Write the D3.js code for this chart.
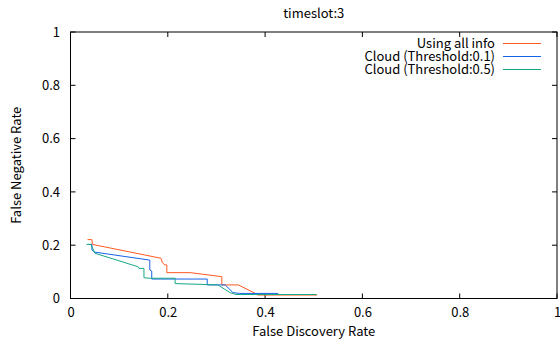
<!DOCTYPE html>
<html>
<head>
<meta charset="utf-8">
<script src="https://cdn.jsdelivr.net/npm/d3@7"></script>
<style>
  body { margin: 0; background: #fff; }
  svg text { font-family: "Noto Sans CJK JP", "Noto Sans", sans-serif; fill: #000; }
</style>
</head>
<body>
<div class="chart"></div>
<script>
// series: [false discovery rate, false negative rate]
var allInfo = [
  [0.035, 0.221], [0.044, 0.221], [0.045, 0.203], [0.186, 0.151], [0.189, 0.134],
  [0.194, 0.126], [0.198, 0.126], [0.198, 0.097], [0.246, 0.097], [0.311, 0.082],
  [0.311, 0.051], [0.345, 0.051], [0.379, 0.020], [0.385, 0.013], [0.507, 0.013]
];
var cloud01 = [
  [0.037, 0.203], [0.044, 0.203], [0.044, 0.182], [0.050, 0.174], [0.163, 0.144],
  [0.163, 0.107], [0.167, 0.103], [0.167, 0.073], [0.281, 0.073], [0.281, 0.051],
  [0.318, 0.051], [0.334, 0.022], [0.348, 0.019], [0.427, 0.019]
];
var cloud05 = [
  [0.033, 0.203], [0.042, 0.203], [0.050, 0.170], [0.139, 0.119], [0.141, 0.113],
  [0.151, 0.113], [0.151, 0.078], [0.163, 0.076], [0.215, 0.076], [0.215, 0.056],
  [0.303, 0.051], [0.328, 0.022], [0.340, 0.015], [0.506, 0.015]
];
var seriesNames = ["Using all info", "Cloud (Threshold:0.1)", "Cloud (Threshold:0.5)"];
var seriesColors = ["#ff5a1f", "#1563e6", "#17a884"];
var tickValues = [0, 0.2, 0.4, 0.6, 0.8, 1];

var margin = { top: 32, right: 3, bottom: 46.5, left: 70.5 };
var width = 560 - margin.left - margin.right;
var height = 345 - margin.top - margin.bottom;

var svg = d3.select(".chart")
  .append("svg")
  .attr("width", 560)
  .attr("height", 345)
  .append("g")
  .attr("transform", `translate(${margin.left}, ${margin.top})`);

var xScale = d3.scaleLinear().domain([0, 1]).range([0, width]);
var yScale = d3.scaleLinear().domain([0, 1]).range([height, 0]);

// tick labels
svg.append("g")
  .attr("transform", `translate(0,${height})`)
  .call(d3.axisBottom(xScale).tickValues(tickValues).tickFormat(d3.format("~g")).tickSize(0).tickPadding(9))
  .call(g => g.select(".domain").remove())
  .selectAll("text").style("font-size", "13px");

svg.append("g")
  .call(d3.axisLeft(yScale).tickValues(tickValues).tickFormat(d3.format("~g")).tickSize(0).tickPadding(10.5))
  .call(g => g.select(".domain").remove())
  .selectAll("text").style("font-size", "13px");

// inward ticks on all four sides
var tl = 5;
tickValues.forEach(function(t) {
  svg.append("line").attr("x1", xScale(t)).attr("x2", xScale(t))
    .attr("y1", height).attr("y2", height - tl).attr("stroke", "#000");
  svg.append("line").attr("x1", xScale(t)).attr("x2", xScale(t))
    .attr("y1", 0).attr("y2", tl).attr("stroke", "#000");
  svg.append("line").attr("y1", yScale(t)).attr("y2", yScale(t))
    .attr("x1", 0).attr("x2", tl).attr("stroke", "#000");
  svg.append("line").attr("y1", yScale(t)).attr("y2", yScale(t))
    .attr("x1", width).attr("x2", width - tl).attr("stroke", "#000");
});

// frame
svg.append("rect")
  .attr("width", width).attr("height", height)
  .attr("fill", "none").attr("stroke", "#000").attr("stroke-width", 1);

// lines
var line = d3.line()
  .x(function(d) { return xScale(d[0]); })
  .y(function(d) { return yScale(d[1]); });

[allInfo, cloud01, cloud05].forEach(function(s, i) {
  svg.append("path")
    .datum(s)
    .attr("d", line)
    .attr("fill", "none")
    .attr("stroke", seriesColors[i])
    .attr("stroke-width", 1);
});

// legend
var legend = svg.append("g").attr("transform", `translate(${width - 62}, 11.5)`);
seriesNames.forEach(function(name, i) {
  var row = legend.append("g").attr("transform", `translate(0, ${i * 13})`);
  row.append("text")
    .attr("x", 0).attr("y", 0).attr("dy", "0.35em")
    .attr("text-anchor", "end")
    .style("font-size", "13px")
    .text(name);
  row.append("line")
    .attr("x1", 8).attr("x2", 46)
    .attr("y1", 0).attr("y2", 0)
    .attr("stroke", seriesColors[i]).attr("stroke-width", 1);
});

// titles
svg.append("text")
  .attr("x", width / 2).attr("y", -14)
  .attr("text-anchor", "middle")
  .style("font-size", "13px")
  .text("timeslot:3");

svg.append("text")
  .attr("x", width / 2).attr("y", height + 37)
  .attr("text-anchor", "middle")
  .style("font-size", "13px")
  .text("False Discovery Rate");

svg.append("text")
  .attr("transform", `translate(-50, ${height / 2}) rotate(-90)`)
  .attr("text-anchor", "middle")
  .style("font-size", "13px")
  .text("False Negative Rate");
</script>
</body>
</html>
